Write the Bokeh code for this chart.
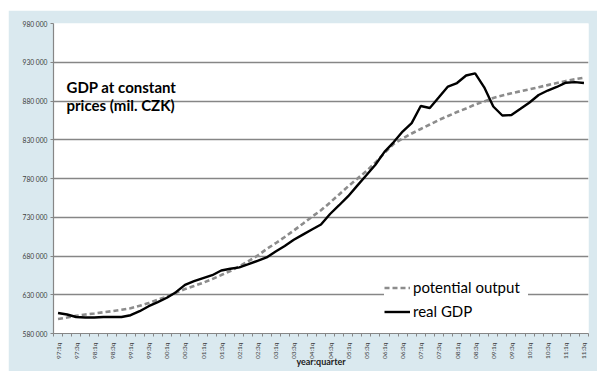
from bokeh.plotting import figure
from bokeh.models import Range1d, FixedTicker, Label, Legend, LegendItem
from bokeh.embed import file_html
from bokeh.resources import INLINE
import math

years = ["97", "98", "99", "00", "01", "02", "03", "04", "05", "06", "07", "08", "09", "10", "11"]
quarters = [f"{y}:{q}q" for y in years for q in (1, 2, 3, 4)][:59]

real_gdp = [
    606400, 604500, 601300, 600600, 600600, 601300, 601500, 601300, 603600, 608800,
    615200, 620400, 626100, 633300, 642800, 647500, 651400, 655200, 661300, 663500,
    665400, 669400, 673800, 678100, 685800, 693000, 700900, 707600, 714200, 720600,
    734200, 745500, 757200, 770800, 784100, 797700, 814300, 826700, 840600, 851500,
    873500, 871000, 884800, 898700, 903200, 912900, 915700, 897700, 872900, 861300,
    861900, 869900, 878100, 887700, 893500, 898100, 903600, 904400, 903200,
]

potential_output = [
    598700, 600600, 602800, 604500, 605800, 607400, 608900, 610700, 612600, 615700,
    619400, 623600, 627700, 632600, 637400, 641400, 645500, 650200, 655400, 660500,
    666800, 673500, 680400, 689000, 696500, 704500, 712900, 721700, 730600, 739000,
    749000, 759400, 769900, 779700, 789500, 800600, 812900, 824500, 831600, 838100,
    843900, 849700, 855500, 860600, 865800, 870300, 875500, 879400, 883900, 887100,
    889900, 892600, 895100, 897800, 900500, 903200, 905800, 908000, 910100,
]

ytick_values = [580000, 630000, 680000, 730000, 780000, 830000, 880000, 930000, 980000]
ytick_labels = ["580 000", "630 000", "680 000", "730 000", "780 000",
                "830 000", "880 000", "930 000", "980 000"]

title_lines = ["GDP at constant", "prices (mil. CZK)"]
x_axis_title = "year:quarter"

FONT = "Lato"
idx = list(range(len(quarters)))

p = figure(width=589, height=361, output_backend="svg", toolbar_location=None,
           x_range=Range1d(-0.5, len(quarters) - 0.5),
           y_range=Range1d(ytick_values[0], ytick_values[-1]),
           min_border_left=45, min_border_right=9, min_border_top=13, min_border_bottom=38,
           margin=(10, 0, 0, 8))

p.background_fill_color = "white"
p.border_fill_color = "#DAE9EF"
p.outline_line_color = None

# x axis
major = [i for i in idx if i % 2 == 0]
p.xaxis.ticker = FixedTicker(ticks=major, minor_ticks=[i - 0.5 for i in idx] + [len(idx) - 0.5])
p.xaxis.major_label_overrides = {i: quarters[i] for i in major}
p.xaxis.major_label_orientation = math.pi / 2
p.xaxis.major_label_text_font = FONT
p.xaxis.major_label_text_font_size = "6.5px"
p.xaxis.major_label_text_color = "#404040"
p.xaxis.major_label_standoff = 6
p.xaxis.major_tick_out = 0
p.xaxis.major_tick_in = 0
p.xaxis.minor_tick_out = 3
p.xaxis.minor_tick_in = 0
p.xaxis.minor_tick_line_color = "#868686"
p.xaxis.axis_line_color = "#868686"
p.xaxis.axis_line_width = 1.2
p.xaxis.axis_label = x_axis_title
p.xaxis.axis_label_text_font = FONT
p.xaxis.axis_label_text_font_style = "bold"
p.xaxis.axis_label_text_font_size = "9px"
p.xaxis.axis_label_text_color = "#202020"
p.xaxis.axis_label_standoff = -6

# y axis
p.yaxis.ticker = FixedTicker(ticks=ytick_values)
p.yaxis.major_label_overrides = dict(zip(ytick_values, ytick_labels))
p.yaxis.major_label_text_font = FONT
p.yaxis.major_label_text_font_size = "6.7px"
p.yaxis.major_label_text_color = "#404040"
p.yaxis.major_label_standoff = 3
p.yaxis.major_tick_out = 3
p.yaxis.major_tick_in = 0
p.yaxis.major_tick_line_color = "#868686"
p.yaxis.minor_tick_line_color = None
p.yaxis.axis_line_color = "#868686"
p.yaxis.axis_line_width = 1.2

p.xgrid.grid_line_color = None
p.ygrid.grid_line_color = "#868686"
p.ygrid.grid_line_width = 1.3

r_pot = p.line(idx, potential_output, line_color="#8C8C8C", line_width=2.6, line_dash="5 3")
r_real = p.line(idx, real_gdp, line_color="black", line_width=2.4)

legend = Legend(items=[LegendItem(label="potential output", renderers=[r_pot]),
                       LegendItem(label="real GDP", renderers=[r_real])],
                location=(331, 13))
legend.background_fill_color = "white"
legend.background_fill_alpha = 1.0
legend.border_line_color = None
legend.label_text_font = FONT
legend.label_text_font_size = "15px"
legend.label_text_color = "black"
legend.glyph_width = 26
legend.glyph_height = 15
legend.label_height = 15
legend.label_width = 115
legend.label_standoff = 3
legend.spacing = 6
legend.padding = 13
legend.margin = 0
p.add_layout(legend)

for text, ys in zip(title_lines, (247, 229)):
    p.add_layout(Label(x=13, y=ys, x_units="screen", y_units="screen", text=text,
                       text_font=FONT, text_font_style="bold", text_font_size="15px",
                       text_color="black", text_baseline="alphabetic"))

open("out.html", "w").write(file_html(p, INLINE))
